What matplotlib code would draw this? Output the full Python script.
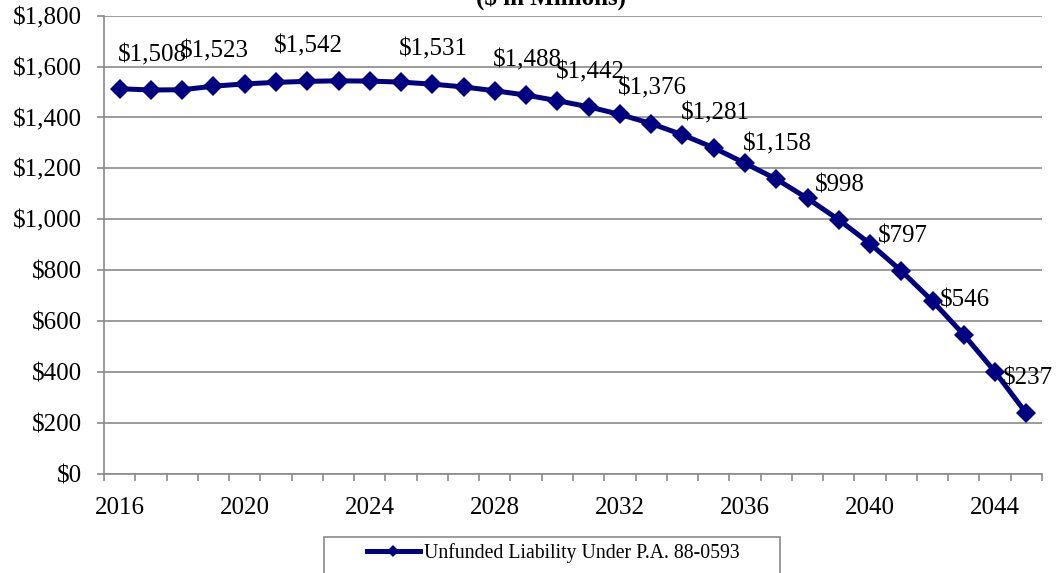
import matplotlib

matplotlib.use("Agg")
import matplotlib.pyplot as plt
from matplotlib.patches import Rectangle
from matplotlib.ticker import FuncFormatter

# projected unfunded liability, $ millions
years = list(range(2016, 2046))
liability = [1513, 1508, 1509, 1523, 1532, 1538, 1542, 1544, 1543, 1539,
             1531, 1520, 1505, 1488, 1466, 1442, 1412, 1376, 1332, 1281,
             1220, 1158, 1082, 998, 904, 797, 678, 546, 400, 237]
label_years = [2017, 2019, 2022, 2026, 2029, 2031, 2033, 2035, 2037,
               2039, 2041, 2043, 2045]
tick_years = [2016, 2020, 2024, 2028, 2032, 2036, 2040, 2044]
y_ticks = list(range(0, 1801, 200))
series_name = "Unfunded Liability Under P.A. 88-0593"

NAVY = "#000080"
GRID = "#8a8a8a"

plt.rcParams["font.family"] = ["Liberation Serif", "DejaVu Serif"]

fig = plt.figure(figsize=(10.63, 5.73), dpi=100)
ax = fig.add_axes([104 / 1063, 1 - 473.7 / 573, 938 / 1063, (473.7 - 15.7) / 573])

line, = ax.plot(years, liability, color=NAVY, linewidth=3.6, marker="D",
                markersize=10.5, markeredgewidth=0, label=series_name, zorder=3)

for yr, val in zip(years, liability):
    if yr in label_years:
        ax.annotate(f"${val:,}", (yr, val), xytext=(1, 25), textcoords="offset points",
                    ha="center", va="center", fontsize=18, annotation_clip=False)

ax.set_xlim(2015.5, 2045.5)
ax.set_ylim(0, 1800)
ax.set_yticks(y_ticks)
ax.yaxis.set_major_formatter(FuncFormatter(lambda v, _: f"${v:,.0f}"))
ax.set_xticks(tick_years)
ax.set_xticks([y - 0.5 for y in years] + [years[-1] + 0.5], minor=True)
ax.tick_params(axis="x", which="major", length=0, pad=17, labelsize=18)
ax.tick_params(axis="x", which="minor", length=5, width=1.2, color=GRID)
ax.tick_params(axis="y", length=5, width=1.2, color=GRID, pad=11, labelsize=18)

ax.yaxis.grid(True, color=GRID, linewidth=1.2)
ax.set_axisbelow(True)
for side in ("top", "right"):
    ax.spines[side].set_visible(False)
for side in ("left", "bottom"):
    ax.spines[side].set_color(GRID)
    ax.spines[side].set_linewidth(1.2)

# partially visible subtitle at top edge
fig.text(551 / 1063, 1 - 5 / 573, "($ in Millions)", ha="center", va="baseline",
         fontsize=18, fontweight="bold")

# legend box runs off the bottom of the image
fig.patches.append(Rectangle((324 / 1063, -0.05), 456 / 1063, 0.05 + (573 - 536.7) / 573,
                             transform=fig.transFigure, facecolor="white",
                             edgecolor=GRID, linewidth=1.2))
fig.legend(handles=[line], loc="center", bbox_to_anchor=(553 / 1063, 1 - 553 / 573),
           frameon=False, fontsize=14.2, handlelength=2.7, handletextpad=0.2,
           markerscale=0.6, borderpad=0)

fig.savefig("out.png", dpi=100)
plt.close(fig)
